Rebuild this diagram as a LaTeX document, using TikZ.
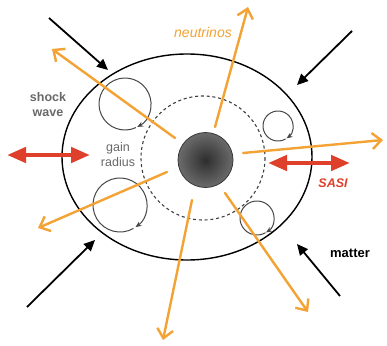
\documentclass[tikz,border=0pt]{standalone}
\usepackage{fontspec}
\setmainfont{Liberation Sans}
\usetikzlibrary{arrows.meta}
\definecolor{nuorange}{RGB}{243,162,52}
\definecolor{sasired}{RGB}{222,64,44}
\definecolor{labelgray}{RGB}{105,105,105}
\begin{document}
\begin{tikzpicture}[x=1pt,y=-1pt,
  shell/.style={draw=black, line width=1.4pt},
  gainline/.style={draw=black!75, line width=1.1pt, dash pattern=on 3pt off 2.8pt},
  eddy/.style={draw=black!72, line width=1pt, -{Stealth[length=6pt,width=5pt]}},
  nu/.style={draw=nuorange, line width=2.4pt, line cap=round, -{Straight Barb[length=9pt,width=16pt]}},
  infall/.style={draw=black, line width=1.8pt, -{Triangle[length=11pt,width=10pt]}},
  sasi/.style={draw=sasired, line width=4.5pt, {Triangle[length=19pt,width=15pt]}-{Triangle[length=19pt,width=15pt]}},
  lbl/.style={align=center, inner sep=0pt}]
\useasboundingbox[fill=white] (0,0) rectangle (387,345);

% shock (outer ellipse) and gain radius
\coordinate (shockc) at (187,157);
\draw[shell] (shockc) ellipse[x radius=125, y radius=103];
\coordinate (gainc) at (203,158);
\draw[gainline] (gainc) circle[radius=62];

% proto-neutron star core
\node[circle, minimum size=55pt, inner sep=0pt, draw=black!78, line width=0.8pt,
      shading=radial, inner color=black!82, outer color=black!58] (core) at (205.5,160) {};

% eddies
\coordinate (e1) at (125,104);
\coordinate (e2) at (278,126);
\coordinate (e3) at (120,205);
\coordinate (e4) at (257,218);
\draw[eddy] ([shift={(-295:26)}]e1) arc[start angle=-295, end angle=62, radius=26];
\draw[eddy] ([shift={(-300:15)}]e2) arc[start angle=-300, end angle=55, radius=15];
\draw[eddy] ([shift={(-300:27)}]e3) arc[start angle=-300, end angle=55, radius=27];
\draw[eddy] ([shift={(-300:17)}]e4) arc[start angle=-300, end angle=58, radius=17];

% SASI arrows
\coordinate (r1a) at (7,155);  \coordinate (r1b) at (90,155);
\coordinate (r2a) at (268,163); \coordinate (r2b) at (350,163);
\draw[sasi] (r1a) -- (r1b);
\draw[sasi] (r2a) -- (r2b);

% infalling matter
\coordinate (b1s) at (49,18);   \coordinate (b1t) at (108,70);
\coordinate (b2s) at (352,31);  \coordinate (b2t) at (297,85);
\coordinate (b3s) at (27,307);  \coordinate (b3t) at (95,240);
\coordinate (b4s) at (340,296); \coordinate (b4t) at (297,244);
\draw[infall] (b1s) -- (b1t);
\draw[infall] (b2s) -- (b2t);
\draw[infall] (b3s) -- (b3t);
\draw[infall] (b4s) -- (b4t);

% neutrinos
\coordinate (n1s) at (175,138); \coordinate (n1t) at (52,49);
\coordinate (n2s) at (215,127); \coordinate (n2t) at (248,7);
\coordinate (n3s) at (243,153); \coordinate (n3t) at (383,140);
\coordinate (n4s) at (167,172); \coordinate (n4t) at (38,228);
\coordinate (n5s) at (192,200); \coordinate (n5t) at (163,340);
\coordinate (n6s) at (225,193); \coordinate (n6t) at (308,312);
\draw[nu] (n1s) -- (n1t);
\draw[nu] (n2s) -- (n2t);
\draw[nu] (n3s) -- (n3t);
\draw[nu] (n4s) -- (n4t);
\draw[nu] (n5s) -- (n5t);
\draw[nu] (n6s) -- (n6t);

% labels
\node[lbl, text=labelgray, font=\fontsize{12.5}{15}\selectfont\bfseries] (shock) at (48,105) {shock\\wave};
\node[lbl, text=labelgray, font=\fontsize{12.5}{15}\selectfont] (gain) at (118,155) {gain\\radius};
\node[lbl, text=nuorange, font=\fontsize{14}{16}\selectfont\itshape] (nulbl) at (203,32) {neutrinos};
\node[lbl, text=sasired, font=\fontsize{12.5}{15}\selectfont\bfseries\itshape] (sasilbl) at (333,183) {SASI};
\node[lbl, text=black, font=\fontsize{13}{15}\selectfont\bfseries] (matter) at (350,253) {matter};
\end{tikzpicture}
\end{document}
